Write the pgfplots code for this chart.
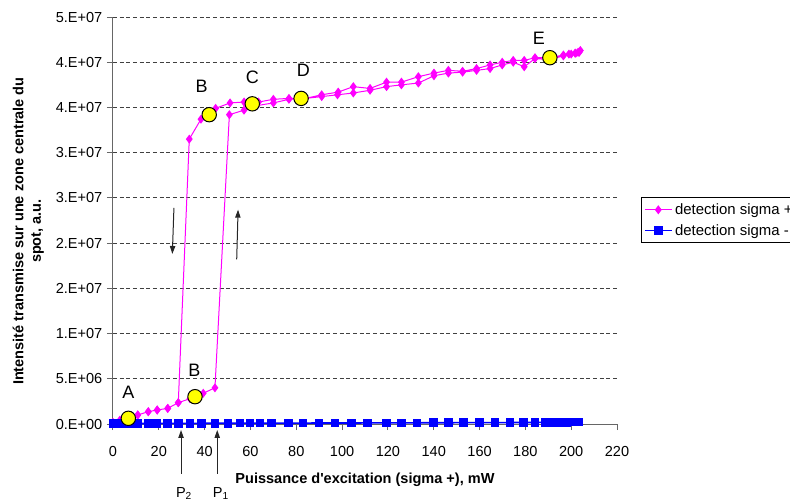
\documentclass[border=0pt]{standalone}
\usepackage{pgfplots}
\pgfplotsset{compat=1.18}
\usepackage{fontspec}
\setmainfont{Liberation Sans}
\usetikzlibrary{arrows.meta}
\definecolor{mag}{RGB}{255,0,255}
\definecolor{blu}{RGB}{0,0,255}
\definecolor{circ}{RGB}{255,255,0}
\newcommand{\tfont}{\fontsize{10.9bp}{13bp}\selectfont}
\newcommand{\legfont}{\fontsize{11.2bp}{13bp}\selectfont}
\newcommand{\lfont}{\fontsize{13.5bp}{16bp}\selectfont}

\pgfplotstableread{
x y
0 150000
3 400000
6.7 650000
10.8 1000000
15.4 1360000
19.3 1550000
23.9 1730000
28.5 2360000
33.6 2800000
39.4 3400000
44.5 4000000
50.8 34200000
57.2 34700000
62.7 35200000
70 35500000
76.8 35900000
84 36000000
91.1 36200000
98 36400000
104.9 36600000
112.2 36900000
119.4 37300000
125.9 37500000
133.3 37700000
140.1 38500000
146.4 38800000
152.6 38900000
158.7 39100000
164.6 39300000
169.9 39700000
174.7 40000000
179.5 39500000
184.2 40400000
190.7 40300000
196.6 40700000
200 40900000
202 41000000
203.5 41100000
204 41300000
203 41100000
201.7 41000000
199 40900000
196.6 40800000
190.7 40500000
184.2 40500000
179.5 40200000
174.7 40200000
169.9 40000000
164.6 39700000
158.7 39300000
152.6 39000000
146.4 39100000
140.1 38800000
133.3 38400000
125.9 37800000
119.4 37800000
112.2 37100000
104.9 37300000
98.3 36700000
91.1 36400000
84 36000000
76.8 36000000
70 35900000
63.5 35600000
57.2 35600000
51.1 35500000
44.8 34900000
38.4 33700000
33.3 31500000
28.5 2360000
23.9 1730000
19.3 1550000
15.4 1360000
10.8 1000000
6.7 650000
3 400000
0 150000
}\sigmaplus

\pgfplotstableread{
x y
0 50000
3 50000
6.7 50000
10.8 60000
15.4 60000
19.3 60000
23.9 70000
28.5 70000
33.6 70000
38.7 80000
44.5 80000
50.3 80000
55.4 90000
59.8 90000
64.2 90000
69.3 100000
76.5 100000
83 100000
90 110000
97 110000
104 110000
111 120000
119.5 120000
126 130000
132.6 130000
139.8 140000
146.4 140000
152.9 150000
159.9 150000
166.7 160000
173.3 160000
179.1 170000
184.2 170000
188.6 180000
192.2 180000
195.1 190000
198.0 190000
200.2 200000
202.4 200000
203.5 210000
}\sigmaminus

\pgfplotstableread{
x y
6.7 630000
35.8 3020000
42.0 34200000
60.8 35400000
82.1 36000000
190.7 40500000
}\circles

\begin{document}
\begin{tikzpicture}
\begin{axis}[
  at={(0,0)}, anchor=south west,
  scale only axis, width=378bp, height=305.25bp,
  xmin=0, xmax=220, ymin=0, ymax=45000000,
  xtick={0,20,...,220},
  ytick={0,5000000,10000000,15000000,20000000,25000000,30000000,35000000,40000000,45000000},
  yticklabels={0.E+00,5.E+06,1.E+07,2.E+07,2.E+07,3.E+07,3.E+07,4.E+07,4.E+07,5.E+07},
  scaled y ticks=false, scaled x ticks=false,
  axis x line*=bottom, axis y line*=left,
  axis line style={black!60, line width=0.75bp, -},
  tick style={black!60, line width=0.75bp},
  tick align=outside, major tick length=4.5bp,
  ymajorgrids,
  grid style={black!75, line width=0.75bp, dash pattern=on 3bp off 2bp},
  ticklabel style={font=\tfont},
  xticklabel style={yshift=-9bp},
  /pgf/number format/assume math mode=true,
  xlabel={\bfseries Puissance d\textquotesingle excitation (sigma +), mW},
  xlabel style={font=\tfont, at={(axis description cs:0.5,-0.138)}, anchor=center},
  ylabel={\bfseries Intensité transmise sur une zone centrale du\\\bfseries spot, a.u.},
  ylabel style={font=\tfont, align=center, at={(axis description cs:-0.168,0.474)}, anchor=center},
  clip=false,
  legend style={at={(axis description cs:1.0476,0.558)}, anchor=north west,
    draw=black, line width=0.75bp, font=\legfont, fill=white,
    inner xsep=2bp, inner ysep=2.5bp, row sep=2bp},
  legend cell align=left,
  legend image code/.code={\draw[mark repeat=2,mark phase=2,#1] plot coordinates {(0bp,0bp) (10bp,0bp) (20bp,0bp)};},
]
\addplot[color=mag, line width=0.75bp, mark=diamond*, mark size=2.8bp,
  mark options={fill=mag, draw=mag}] table[x=x,y=y] {\sigmaplus};
\addlegendentry{detection sigma +}
\addplot[color=blu, line width=1.2bp, mark=square*, mark size=2.6bp,
  mark options={fill=blu, draw=blu}] table[x=x,y=y] {\sigmaminus};
\addlegendentry{detection sigma -}
\addplot[only marks, mark=*, mark size=5.4bp, mark options={fill=circ, draw=black, line width=0.75bp}, forget plot] table[x=x,y=y] {\circles};

\node[font=\lfont] at (axis cs:6.7,3460000) {A};
\node[font=\lfont] at (axis cs:35.5,5970000) {B};
\node[font=\lfont] at (axis cs:38.7,37370000) {B};
\node[font=\lfont] at (axis cs:60.8,38330000) {C};
\node[font=\lfont] at (axis cs:83.1,39140000) {D};
\node[font=\lfont] at (axis cs:185.9,42650000) {E};

\draw[-{Triangle[length=6bp,width=4bp]}, line width=0.75bp, black!85] (axis cs:26.6,23900000) -- (axis cs:25.9,18800000);
\draw[-{Triangle[length=6bp,width=4bp]}, line width=0.75bp, black!85] (axis cs:54.0,18200000) -- (axis cs:54.6,23700000);

\draw[-{Triangle[length=6bp,width=4bp]}, line width=0.75bp, black!85] (axis cs:29.7,-5500000) -- (axis cs:29.7,-660000);
\draw[-{Triangle[length=6bp,width=4bp]}, line width=0.75bp, black!85] (axis cs:45.5,-5500000) -- (axis cs:45.5,-660000);
\node[font=\tfont] at (axis cs:31.0,-7700000) {P\textsubscript{2}};
\node[font=\tfont] at (axis cs:47.1,-7700000) {P\textsubscript{1}};
\end{axis}
\pgfresetboundingbox
\useasboundingbox (-84.75bp,-60bp) rectangle (507.75bp,318bp);
\end{tikzpicture}
\end{document}
